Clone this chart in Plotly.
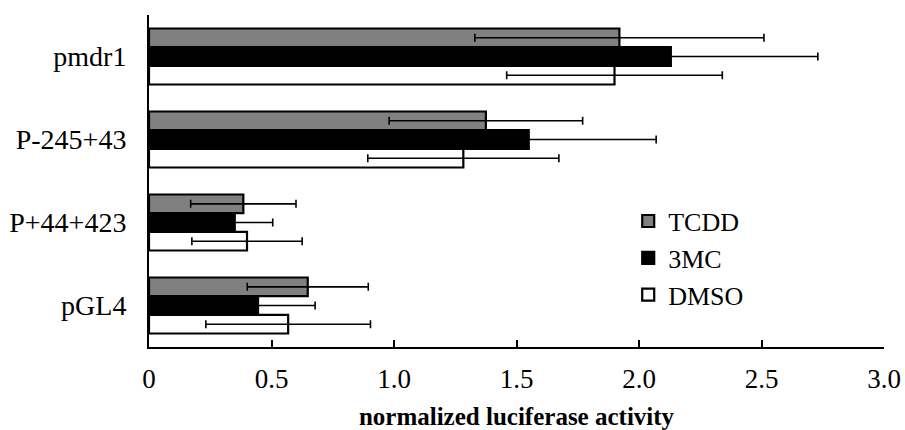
import plotly.graph_objects as go

categories = ["pmdr1", "P-245+43", "P+44+423", "pGL4"]
tcdd = [1.92, 1.375, 0.385, 0.648]
tcdd_err = [0.59, 0.395, 0.215, 0.247]
mc3 = [2.13, 1.55, 0.35, 0.445]
mc3_err = [0.60, 0.52, 0.155, 0.233]
dmso = [1.90, 1.283, 0.40, 0.568]
dmso_err = [0.44, 0.39, 0.225, 0.336]
series_names = ["TCDD", "3MC", "DMSO"]
x_ticks = [0, 0.5, 1.0, 1.5, 2.0, 2.5, 3.0]
x_tick_labels = ["0", "0.5", "1.0", "1.5", "2.0", "2.5", "3.0"]

FONT = "Liberation Serif"
fills = ["#808080", "#000000", "#ffffff"]

fig = go.Figure()
for name, vals, errs, fill in zip(series_names, [tcdd, mc3, dmso], [tcdd_err, mc3_err, dmso_err], fills):
    fig.add_trace(go.Bar(
        name=name, y=categories, x=vals, orientation="h",
        marker=dict(color=fill, line=dict(color="black", width=2.2)),
        error_x=dict(type="data", array=errs, visible=True, color="black", thickness=1.6, width=4),
    ))

fig.update_layout(
    width=905, height=430,
    margin=dict(l=149, r=21, t=15, b=83, autoexpand=False),
    paper_bgcolor="white", plot_bgcolor="white",
    barmode="group", bargap=0.325, bargroupgap=0,
    font=dict(family=FONT, color="black"),
    legend=dict(x=0.652, y=0.45, xanchor="left", yanchor="top",
                font=dict(size=26, family=FONT), bgcolor="rgba(0,0,0,0)"),
    xaxis=dict(range=[0, 3.0], tickvals=x_ticks, ticktext=x_tick_labels, automargin=False,
               ticklabeloverflow="allow",
               showline=True, linecolor="black", linewidth=2, showgrid=False, zeroline=False,
               ticks="inside", ticklen=7, tickwidth=2, tickcolor="black",
               tickfont=dict(size=27, family=FONT), ticklabelstandoff=7,
               title=dict(text="<b>normalized luciferase activity</b>", font=dict(size=25, family=FONT), standoff=38)),
    yaxis=dict(autorange=False, range=[3.5, -0.5], type="category", automargin=False,
               showline=True, linecolor="black", linewidth=2, showgrid=False, zeroline=False,
               ticks="", tickfont=dict(size=28, family=FONT), ticklabelstandoff=15),
)

fig.write_html("out.html", config={"displayModeBar": False},
               post_script="document.body.style.margin='0';document.body.style.overflow='hidden';")
